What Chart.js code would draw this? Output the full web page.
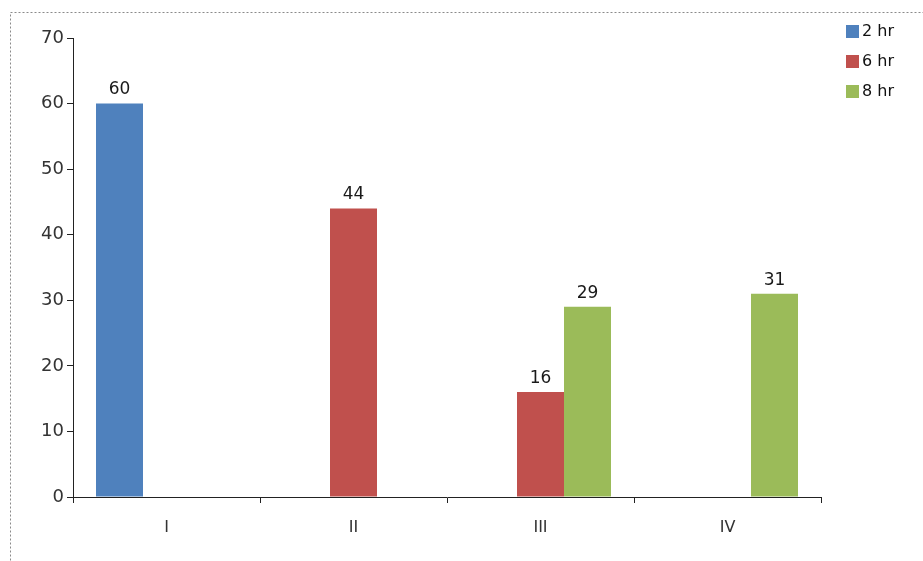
<!DOCTYPE html>
<html>
<head>
<meta charset="utf-8">
<script src="https://cdn.jsdelivr.net/npm/chart.js@4.4.1/dist/chart.umd.min.js"></script>
<style>
  html, body { margin: 0; padding: 0; background: #fff; }
  #wrap { width: 923px; height: 561px; }
</style>
</head>
<body>
<div id="wrap"><canvas id="myChart" width="923" height="561"></canvas></div>
<script>
const categories = ["I", "II", "III", "IV"];
const seriesNames = ["2 hr", "6 hr", "8 hr"];
const values2hr = [60, null, null, null];
const values6hr = [null, 44, 16, null];
const values8hr = [null, null, 29, 31];
const yTicks = [0, 10, 20, 30, 40, 50, 60, 70];

const colors = ["#4f81bd", "#c0504d", "#9bbb59"];
const font = "DejaVu Sans";

// dotted frame round the whole chart
const framePlugin = {
  id: "frame",
  beforeDraw(chart) {
    const ctx = chart.ctx;
    ctx.save();
    ctx.fillStyle = "#fff";
    ctx.fillRect(0, 0, chart.width, chart.height);
    ctx.strokeStyle = "#8a8a8a";
    ctx.setLineDash([2, 2]);
    ctx.lineWidth = 1;
    ctx.strokeRect(10.5, 12.5, 1000, 1000);
    ctx.restore();
  },
};

// numbers on top of the bars
const valueLabels = {
  id: "valueLabels",
  afterDatasetsDraw(chart) {
    const ctx = chart.ctx;
    ctx.save();
    ctx.font = "17px '" + font + "'";
    ctx.fillStyle = "#1a1a1a";
    ctx.textAlign = "center";
    ctx.textBaseline = "bottom";
    chart.data.datasets.forEach((ds, i) => {
      chart.getDatasetMeta(i).data.forEach((bar, j) => {
        if (ds.data[j] == null) return;
        ctx.fillText(String(ds.data[j]), bar.x, bar.y - 5);
      });
    });
    ctx.restore();
  },
};

// small legend in the top right corner
const cornerLegend = {
  id: "cornerLegend",
  afterDraw(chart) {
    const ctx = chart.ctx;
    ctx.save();
    ctx.font = "16px '" + font + "'";
    ctx.textBaseline = "middle";
    chart.data.datasets.forEach((ds, i) => {
      const y = 31 + i * 30;
      ctx.fillStyle = ds.backgroundColor;
      ctx.fillRect(846, y - 6, 13, 13);
      ctx.fillStyle = "#111";
      ctx.fillText(ds.label, 862, y + 1);
    });
    ctx.restore();
  },
};

new Chart(document.getElementById("myChart"), {
  type: "bar",
  data: {
    labels: categories,
    datasets: [
      { label: seriesNames[0], data: values2hr, backgroundColor: colors[0] },
      { label: seriesNames[1], data: values6hr, backgroundColor: colors[1] },
      { label: seriesNames[2], data: values8hr, backgroundColor: colors[2] },
    ],
  },
  options: {
    responsive: false,
    animation: false,
    categoryPercentage: 0.754,
    barPercentage: 1,
    layout: { padding: { left: 0, top: 38, right: 102, bottom: 0 } },
    plugins: {
      legend: { display: false },
      tooltip: { enabled: false },
    },
    scales: {
      x: {
        grid: { drawOnChartArea: false, tickLength: 6, color: "#222" },
        border: { color: "#222" },
        ticks: { color: "#333", font: { family: font, size: 16 }, padding: 15 },
        afterFit: (s) => { s.height = 64; },
      },
      y: {
        min: 0,
        max: 70,
        afterBuildTicks: (s) => { s.ticks = yTicks.map((v) => ({ value: v })); },
        grid: { drawOnChartArea: false, tickLength: 6, color: "#222" },
        border: { color: "#222" },
        ticks: { color: "#333", font: { family: font, size: 18 }, padding: 3 },
        afterFit: (s) => { s.width = 73; },
      },
    },
  },
  plugins: [framePlugin, valueLabels, cornerLegend],
});
</script>
</body>
</html>
